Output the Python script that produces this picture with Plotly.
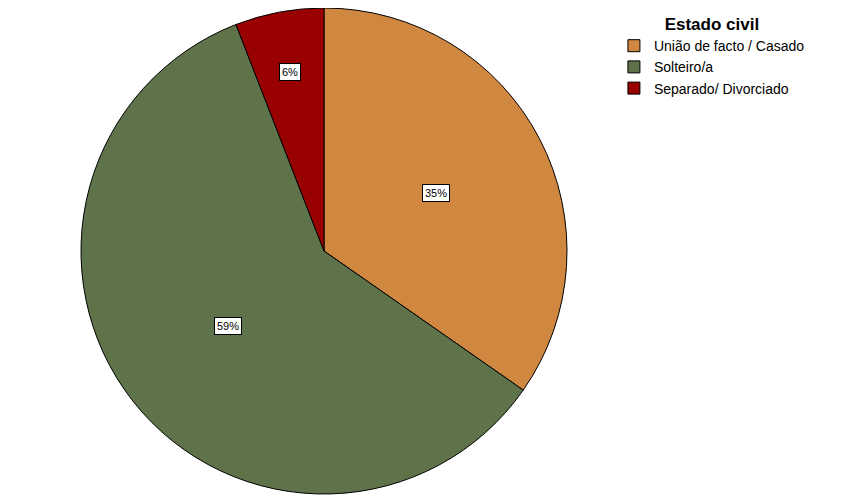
import math

import plotly.graph_objects as go

# Estado civil - percentages
categories = ["União de facto / Casado", "Solteiro/a", "Separado/ Divorciado"]
percentages = [34.7, 59.4, 5.9]
colors = ["#D0873F", "#5E734A", "#990000"]

# radial position of each label box (fraction of radius)
label_radius = [0.52, 0.50, 0.75]

W, H = 851, 501
# pie centre/radius in figure pixels (page has an 8px body margin)
CX, CY, R = 316, 243, 243


def main() -> None:
    fig = go.Figure()

    fig.add_trace(
        go.Pie(
            labels=categories,
            values=percentages,
            sort=False,
            direction="clockwise",
            rotation=0,
            marker=dict(colors=colors, line=dict(color="black", width=1)),
            textinfo="none",
            hoverinfo="label+percent",
            domain=dict(x=[(CX - R) / W, (CX + R) / W],
                        y=[max(0, 1 - (CY + R) / H), min(1, 1 - (CY - R) / H)]),
        )
    )

    # label boxes at the slice mid angles
    total = sum(percentages)
    start = 0.0
    for val, f in zip(percentages, label_radius):
        mid = (start + val / 2) / total * 2 * math.pi
        start += val
        px = CX + f * R * math.sin(mid)
        py = CY - f * R * math.cos(mid)
        fig.add_annotation(
            x=px / W,
            y=1 - py / H,
            xref="paper",
            yref="paper",
            xanchor="center",
            yanchor="middle",
            text=f"{round(val / total * 100)}%",
            showarrow=False,
            font=dict(family="Arial, Liberation Sans", size=11, color="black"),
            bgcolor="white",
            bordercolor="black",
            borderwidth=1,
            borderpad=2,
        )

    fig.update_layout(
        width=W,
        height=H,
        margin=dict(l=0, r=0, t=0, b=0),
        paper_bgcolor="white",
        plot_bgcolor="white",
        font=dict(family="Arial, Liberation Sans", size=12, color="black"),
        legend=dict(
            title=dict(text="<b>Estado civil</b>", side="top center",
                       font=dict(size=17)),
            x=0.712,
            y=1.0,
            xanchor="left",
            yanchor="top",
            tracegroupgap=0,
            itemwidth=30,
            font=dict(size=14),
        ),
    )

    fig.write_html("out.html")


if __name__ == "__main__":
    main()
